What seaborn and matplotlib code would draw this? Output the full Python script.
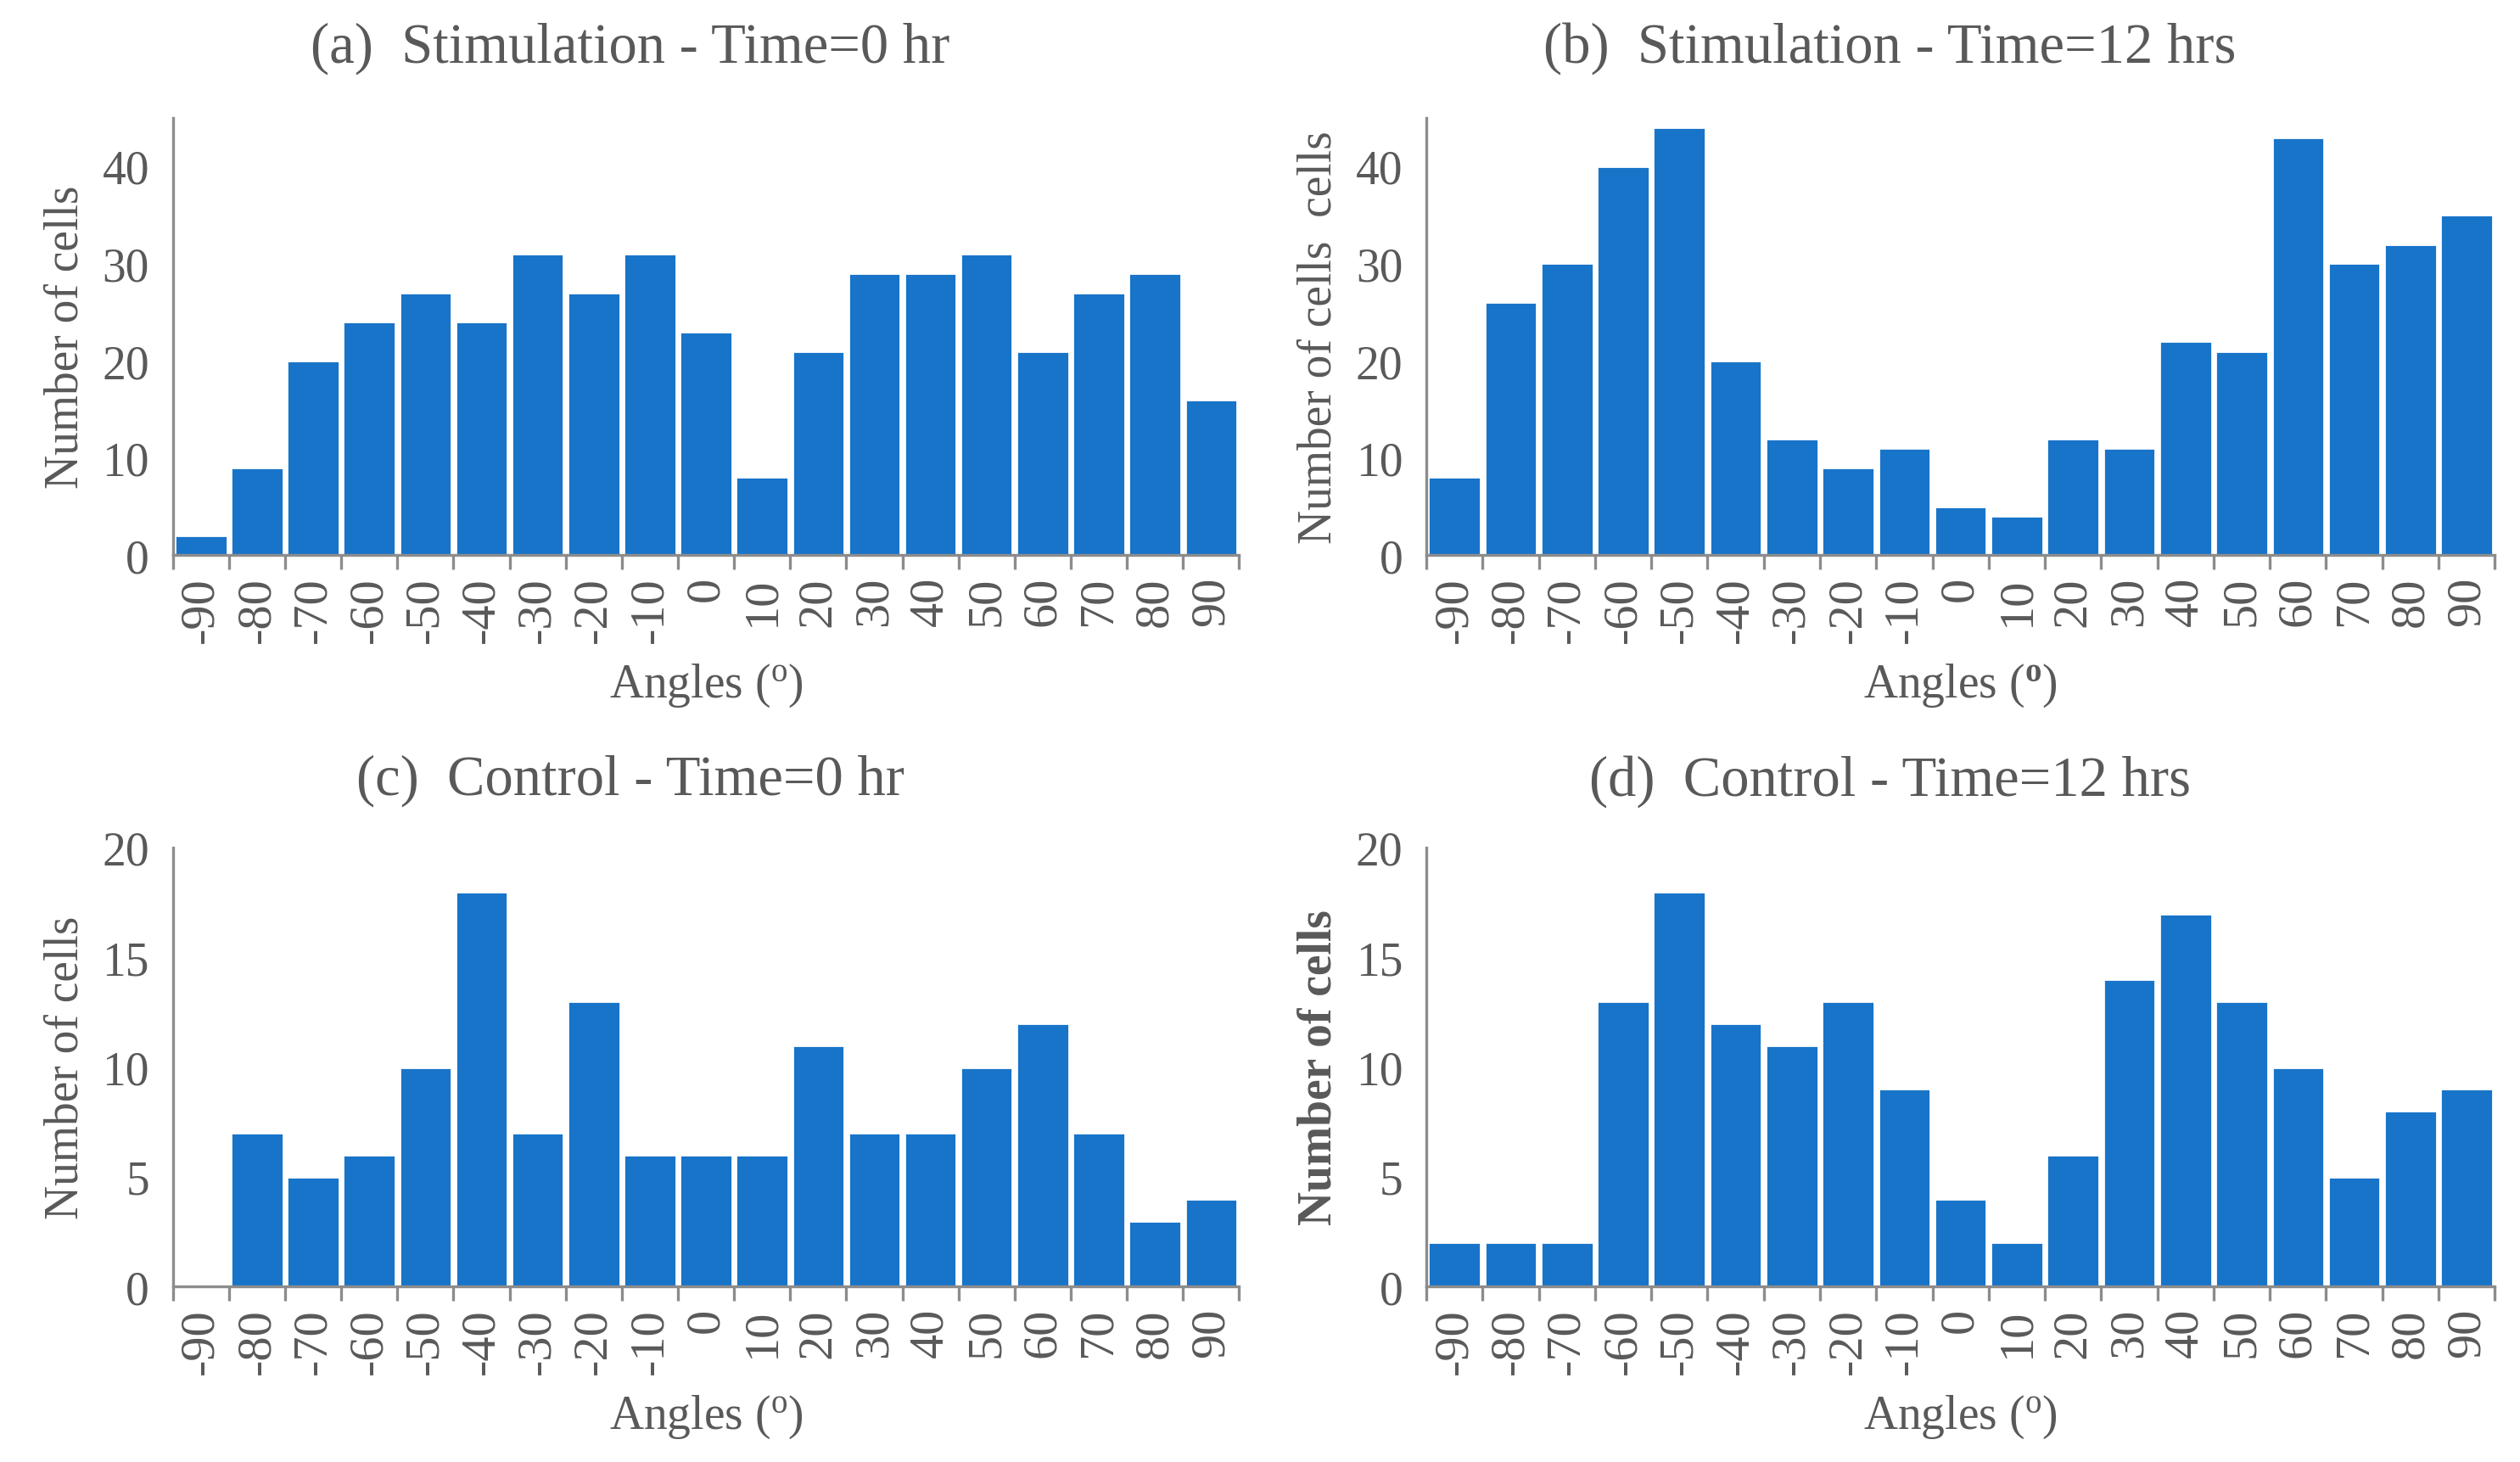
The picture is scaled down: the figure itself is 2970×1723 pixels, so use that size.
import numpy as np
import pandas as pd
import seaborn as sns
import matplotlib.pyplot as plt
from matplotlib.ticker import FixedLocator

# Angle bins (degrees) and counts.
angles = [-90, -80, -70, -60, -50, -40, -30, -20, -10, 0,
          10, 20, 30, 40, 50, 60, 70, 80, 90]
stim_0hr = [2, 9, 20, 24, 27, 24, 31, 27, 31, 23, 8, 21, 29, 29, 31, 21, 27, 29, 16]
stim_12hr = [8, 26, 30, 40, 44, 20, 12, 9, 11, 5, 4, 12, 11, 22, 21, 43, 30, 32, 35]
ctrl_0hr = [0, 7, 5, 6, 10, 18, 7, 13, 6, 6, 6, 11, 7, 7, 10, 12, 7, 3, 4]
ctrl_12hr = [2, 2, 2, 13, 18, 12, 11, 13, 9, 4, 2, 6, 14, 17, 13, 10, 5, 8, 9]

titles = ["(a)  Stimulation - Time=0 hr", "(b)  Stimulation - Time=12 hrs",
          "(c)  Control - Time=0 hr", "(d)  Control - Time=12 hrs"]
ylabels = ["Number of cells", "Number of cells  cells",
           "Number of cells", "Number of cells"]

bar_color = "#1874C9"
text_color = "#595959"
axis_color = "#8c8c8c"

sns.set_style("white")
plt.rcParams["font.family"] = ["Liberation Serif", "DejaVu Serif"]
plt.rcParams["mathtext.fontset"] = "custom"
plt.rcParams["mathtext.rm"] = "Liberation Serif"
plt.rcParams["mathtext.bf"] = "Liberation Serif:bold"
plt.rcParams["text.color"] = text_color
plt.rcParams["axes.labelcolor"] = text_color
plt.rcParams["xtick.color"] = axis_color
plt.rcParams["ytick.color"] = axis_color
plt.rcParams["xtick.labelcolor"] = text_color
plt.rcParams["ytick.labelcolor"] = text_color

fig = plt.figure(figsize=(14.85, 8.62), dpi=200)

# panel settings: position, values, ylim, ytick step, bold ylabel, bold degree
panels = [
    ([0.0686, 0.620, 0.4231, 0.299], stim_0hr, 45, 10, False, False),
    ([0.5660, 0.620, 0.4240, 0.299], stim_12hr, 45, 10, False, True),
    ([0.0686, 0.120, 0.4231, 0.300], ctrl_0hr, 20, 5, False, False),
    ([0.5660, 0.120, 0.4240, 0.300], ctrl_12hr, 20, 5, True, False),
]
title_x = [0.25, 0.75, 0.25, 0.75]
title_y = [0.967, 0.967, 0.466, 0.466]

labels = [str(a) for a in angles]

for i, (pos, vals, ymax, ystep, bold_y, bold_deg) in enumerate(panels):
    ax = fig.add_axes(pos)
    df = pd.DataFrame({"Angle": labels, "Count": vals})
    sns.barplot(data=df, x="Angle", y="Count", order=labels, color=bar_color,
                saturation=1, width=0.93, ax=ax)

    ax.set_xlim(-0.5, len(labels) - 0.5)
    ax.set_ylim(0, ymax)
    ax.set_yticks(np.arange(0, ymax + 1, ystep))
    ax.tick_params(axis="y", labelsize=20, length=6, width=1.2, pad=4)
    ax.tick_params(axis="x", which="major", labelsize=21, length=0,
                   pad=9, labelrotation=90)
    ax.xaxis.set_minor_locator(FixedLocator(np.arange(-0.5, len(labels), 1)))
    ax.tick_params(axis="x", which="minor", length=6, width=1.2,
                   color=axis_color, bottom=True)

    for side in ["top", "right"]:
        ax.spines[side].set_visible(False)
    for side in ["left", "bottom"]:
        ax.spines[side].set_color(axis_color)
        ax.spines[side].set_linewidth(1.2)

    ax.set_ylabel(ylabels[i], fontsize=20, labelpad=6,
                  fontweight="bold" if bold_y else "normal")
    if bold_deg:
        ax.set_xlabel(r"Angles ($\mathbf{^o}$)", fontsize=20, labelpad=8)
    else:
        ax.set_xlabel(r"Angles ($\mathregular{^o}$)", fontsize=20, labelpad=8)

    fig.text(title_x[i], title_y[i], titles[i], fontsize=24,
             ha="center", va="center", color=text_color)

plt.savefig("out.png", dpi=200)
